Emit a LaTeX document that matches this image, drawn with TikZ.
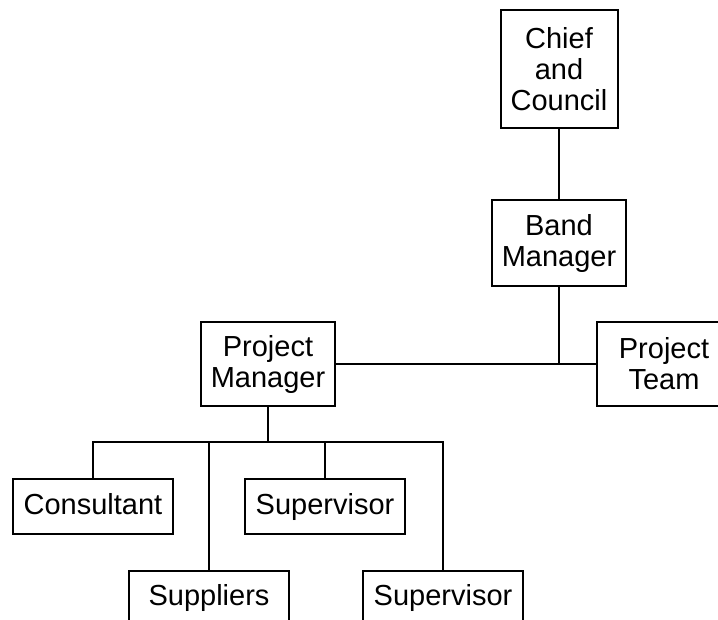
\documentclass[tikz,border=0pt]{standalone}
\usepackage{fontspec}
\setmainfont{Liberation Sans}
\tikzset{
  unit/.style={draw, line width=2pt, align=center, inner sep=0pt,
    font=\fontsize{29}{31}\selectfont},
  leaf/.style={unit, minimum width=160, minimum height=55, text height=21pt, text depth=6pt},
  link/.style={line width=2pt}
}
\begin{document}
\begin{tikzpicture}[x=1pt,y=-1pt]
\useasboundingbox (0,0) rectangle (718,619);
\clip (0,0) rectangle (718,619);
\node [unit, minimum width=117, minimum height=118] (chief) at (559,69) {Chief\\and\\Council};
\node [unit, minimum width=134, minimum height=86] (band) at (559,243) {Band\\Manager};
\node [unit, minimum width=134, minimum height=84] (pm) at (268,364) {Project\\Manager};
\node [unit, minimum width=134, minimum height=84] (team) at (664,364) {Project\\Team};
\node [leaf] (cons) at (93,506.5) {Consultant};
\node [leaf] (supa) at (325,506.5) {Supervisor};
\node [leaf] (supp) at (209,598) {Suppliers};
\node [leaf] (supb) at (443,598) {Supervisor};
\coordinate (bus) at (268,442);
\draw [link] (chief.south) -- (band.north);
\draw [link] (pm.east) -- (team.west);
\draw [link] (band.south) -- (band.south |- pm.east);
\draw [link] (pm.south) -- (bus);
\draw [link] (cons.north) |- (bus -| supb.north) -- (supb.north);
\draw [link] (supp.north) -- (supp.north |- bus);
\draw [link] (supa.north) -- (supa.north |- bus);
\end{tikzpicture}
\end{document}
